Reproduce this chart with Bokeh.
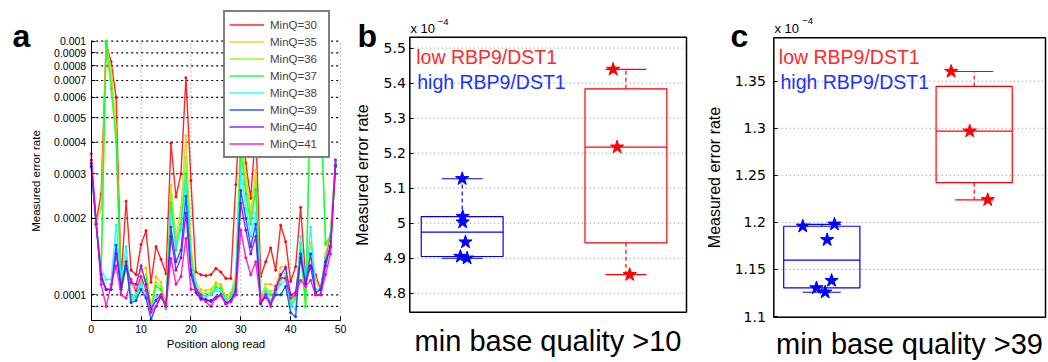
from bokeh.plotting import figure
from bokeh.models import (Range1d, FixedTicker, CustomJSTickFormatter, Legend,
                          LegendItem, Label)
from bokeh.layouts import row
from bokeh.embed import file_html
from bokeh.resources import INLINE
import math

FONT = "Liberation Sans"
H = 362

# ---------------- Panel a data (error rate, units of 1e-4) ----------------
positions = list(range(50))
series_names = ["MinQ=30", "MinQ=35", "MinQ=36", "MinQ=37",
                "MinQ=38", "MinQ=39", "MinQ=40", "MinQ=41"]
series_colors = ["#ff0000", "#ffbf00", "#80ff00", "#00ff40",
                 "#00ffff", "#0040ff", "#8000ff", "#ff00bf"]

err_q30 = [3.4, 1.95, 2.5, 9.8, 8.3, 6.0, 1.15, 2.34, 1.25, 1.2,
           1.58, 1.79, 1.12, 1.55, 1.38, 1.21, 3.96, 2.43, 3.0, 7.17,
           2.82, 1.23, 1.2, 1.19, 1.2, 1.27, 1.23, 1.16, 1.16, 2.72,
           6.0, 3.3, 2.4, 4.5, 1.18, 1.35, 1.53, 1.25, 1.88, 1.62,
           1.13, 1.29, 2.21, 1.17, 1.3, 1.2, 1.05, 1.4, 1.7, 3.4]
err_q35 = [3.3, 1.92, 2.2, 10.0, 7.8, 4.6, 1.1, 1.4, 1.1, 1.02,
           1.25, 1.28, 0.9, 1.18, 1.12, 0.92, 2.7, 1.7, 2.2, 4.24,
           1.55, 1.12, 1.05, 1.04, 1.05, 1.12, 1.1, 0.99, 1.02, 1.2,
           4.5, 3.0, 2.1, 3.1, 0.98, 1.1, 1.1, 1.08, 1.28, 1.3,
           0.95, 1.0, 1.6, 1.05, 1.6, 1.15, 1.03, 1.45, 1.75, 3.35]
err_q36 = [3.3, 1.9, 1.3, 10.0, 7.0, 4.2, 1.05, 1.35, 0.98, 1.0,
           1.12, 1.2, 0.88, 1.12, 1.08, 0.9, 2.5, 1.6, 2.0, 3.5,
           1.45, 1.08, 1.02, 1.01, 1.02, 1.1, 1.08, 0.97, 1.0, 1.15,
           4.0, 2.7, 2.0, 2.8, 0.95, 1.06, 1.03, 1.05, 1.2, 1.22,
           0.93, 0.98, 1.55, 0.9, 7.0, 8.0, 6.5, 1.6, 1.72, 3.3]
err_q37 = [3.3, 1.9, 1.2, 10.0, 6.5, 4.0, 1.02, 1.3, 0.95, 0.98,
           1.1, 1.15, 0.86, 1.08, 1.05, 0.88, 2.3, 1.5, 1.9, 3.0,
           1.4, 1.05, 1.0, 0.99, 1.0, 1.07, 1.06, 0.95, 0.98, 1.12,
           3.8, 2.5, 1.9, 2.6, 0.93, 1.03, 1.0, 1.02, 1.15, 1.18,
           0.9, 0.97, 1.5, 0.9, 6.0, 7.0, 6.0, 1.58, 1.7, 3.3]
err_q38 = [3.2, 1.9, 1.25, 1.15, 1.15, 1.88, 1.15, 1.55, 0.98, 1.0,
           1.1, 1.0, 0.88, 0.98, 1.0, 0.9, 2.1, 1.6, 1.8, 2.8,
           1.35, 1.1, 1.0, 0.99, 1.0, 1.04, 1.03, 0.95, 0.97, 1.1,
           3.1, 2.2, 1.7, 2.1, 0.95, 1.03, 0.95, 1.03, 1.1, 1.15,
           0.9, 0.88, 1.7, 1.1, 1.85, 1.05, 1.05, 1.38, 1.6, 3.3]
err_q39 = [3.2, 1.9, 1.2, 1.05, 1.05, 1.57, 1.07, 1.35, 0.93, 0.95,
           1.05, 0.97, 0.8, 0.9, 0.98, 0.9, 1.85, 1.35, 1.5, 2.45,
           1.25, 1.05, 0.97, 0.96, 0.94, 0.97, 1.0, 0.92, 0.94, 1.05,
           2.58, 2.0, 1.55, 1.9, 0.92, 1.0, 0.92, 1.0, 1.0, 1.08,
           0.85, 0.82, 1.45, 1.1, 1.45, 1.02, 1.05, 1.35, 1.55, 3.2]
err_q40 = [3.3, 1.9, 1.15, 1.05, 1.05, 1.45, 1.05, 1.3, 1.12, 1.1,
           1.3, 1.1, 0.88, 0.95, 1.0, 0.9, 1.7, 1.25, 1.4, 2.1,
           1.2, 1.02, 0.96, 0.95, 0.95, 0.98, 1.0, 0.93, 0.95, 1.03,
           2.3, 1.8, 1.45, 1.7, 0.93, 0.98, 0.92, 1.05, 1.2, 1.28,
           1.0, 1.02, 1.4, 1.1, 1.3, 1.0, 1.0, 1.3, 1.55, 3.25]
err_q41 = [3.6, 1.9, 1.1, 0.9, 1.1, 1.3, 1.0, 0.97, 1.15, 1.04,
           1.18, 1.04, 0.85, 0.9, 1.0, 0.9, 1.39, 1.1, 1.18, 1.67,
           1.05, 1.05, 1.0, 0.94, 0.9, 0.97, 1.0, 0.92, 0.94, 1.0,
           1.8, 1.4, 1.2, 1.35, 0.94, 1.0, 0.9, 1.08, 1.17, 1.16,
           0.97, 1.0, 1.14, 1.08, 1.14, 1.0, 1.0, 1.2, 1.45, 3.4]
all_series = [err_q30, err_q35, err_q36, err_q37, err_q38, err_q39, err_q40, err_q41]

a_xlim = (0, 50)
a_ylim = (7.92e-5, 1e-3)
a_yticks = [0.00009, 0.0001, 0.0002, 0.0003, 0.0004, 0.0005,
            0.0006, 0.0007, 0.0008, 0.0009, 0.001]
a_xticks = [0, 10, 20, 30, 40, 50]

# ---------------- Panel b / c data (units of 1e-4) ----------------
group_names = ["high RBP9/DST1", "low RBP9/DST1"]
group_colors = ["#0000ff", "#ff0000"]

b_high = [5.127, 5.019, 5.003, 4.946, 4.905, 4.900]
b_high_jit = [0.0, 0.003, 0.003, 0.02, -0.011, 0.03]
b_low = [5.439, 5.217, 4.853]
b_low_jit = [-0.078, -0.054, 0.023]
b_xlim = (0.68, 2.37)
b_ylim = (4.746, 5.531)
b_yticks = [4.8, 4.9, 5.0, 5.1, 5.2, 5.3, 5.4, 5.5]

c_high = [1.1959, 1.198, 1.1815, 1.1382, 1.1304, 1.1258]
c_high_jit = [-0.125, 0.083, 0.035, 0.064, -0.035, 0.022]
c_low = [1.3603, 1.2969, 1.2240]
c_low_jit = [-0.151, -0.029, 0.089]
c_xlim = (0.685, 2.468)
c_ylim = (1.0993, 1.3961)
c_yticks = [1.1, 1.15, 1.2, 1.25, 1.3, 1.35]


# ---------------- helpers ----------------
def ext_range(lo, hi, px_lo, px_hi, total, log=False):
    """Extend the data range so that [lo, hi] sits at pixels [px_lo, px_hi]
    of a frame that is `total` pixels long (pixels counted from left/bottom)."""
    if log:
        lo, hi = math.log10(lo), math.log10(hi)
    s = (hi - lo) / (px_hi - px_lo)
    start, end = lo - px_lo * s, hi + (total - px_hi) * s
    if log:
        start, end = 10 ** start, 10 ** end
    return Range1d(start, end)


def new_fig(width, xr, yr, ylog=False):
    p = figure(width=width, height=H, x_range=xr, y_range=yr, title=None,
               y_axis_type="log" if ylog else "linear",
               output_backend="svg", toolbar_location=None,
               min_border=0, min_border_left=0, min_border_right=0,
               min_border_top=0, min_border_bottom=0)
    p.outline_line_color = None
    p.xgrid.grid_line_color = None
    p.ygrid.grid_line_color = None
    return p


def style_axis(ax, tick_size, tick_font=FONT):
    ax.major_label_text_font = tick_font
    ax.major_label_text_font_size = tick_size
    ax.major_label_text_color = "black"
    ax.axis_label_text_font = FONT
    ax.axis_label_text_font_style = "normal"
    ax.axis_label_text_color = "black"
    ax.major_tick_in = 4
    ax.major_tick_out = 0
    ax.minor_tick_line_color = None
    ax.axis_line_color = "black"
    ax.major_tick_line_color = "black"


def add_label(p, x, y, text, size, color="black", style="normal", baseline="alphabetic"):
    p.add_layout(Label(x=x, y=y, x_units="screen", y_units="screen", text=text,
                       text_font=FONT, text_font_size=size, text_color=color,
                       text_font_style=style, text_baseline=baseline))


# ================= Panel a =================
pa = new_fig(350,
             ext_range(a_xlim[0], a_xlim[1], 90.7, 340, 350),
             ext_range(a_ylim[0], a_ylim[1], H - 320, H - 40.7, H, log=True),
             ylog=True)

# dotted grid limited to the plotted area
pa.segment(x0=a_xticks[1:], x1=a_xticks[1:], y0=[a_ylim[0]] * 5, y1=[a_ylim[1]] * 5,
           line_color="#777777", line_dash="1 3", line_width=1)
pa.segment(x0=[a_xlim[0]] * len(a_yticks), x1=[a_xlim[1]] * len(a_yticks),
           y0=a_yticks, y1=a_yticks, line_color="black", line_dash="2 3", line_width=1.2)

items = []
for name, col, vals in zip(series_names, series_colors, all_series):
    yv = [v * 1e-4 for v in vals]
    lr = pa.line(positions, yv, line_color=col, line_width=1.4, line_alpha=0.85)
    pa.scatter(positions, yv, marker="circle", size=2.2, fill_color=col,
               line_color=col, alpha=0.9)
    items.append(LegendItem(label=name, renderers=[lr]))

ya = pa.yaxis[0]
xa = pa.xaxis[0]
ya.ticker = FixedTicker(ticks=a_yticks)
ya.formatter = CustomJSTickFormatter(
    code="if (tick < 0.0000995) { return ''; } return Number(tick.toPrecision(1)).toString();")
ya.fixed_location = a_xlim[0]
ya.bounds = a_ylim
xa.ticker = FixedTicker(ticks=a_xticks)
xa.fixed_location = a_ylim[0]
xa.bounds = a_xlim
for ax in (xa, ya):
    style_axis(ax, "10.5px")
ya.axis_label = "Measured error rate"
xa.axis_label = "Position along read"
ya.axis_label_text_font_size = "11.5px"
xa.axis_label_text_font_size = "11.5px"
ya.major_label_standoff = 5
ya.axis_label_standoff = 9
xa.major_label_standoff = 4
xa.axis_label_standoff = 2

legend = Legend(items=items, location=(223, H - 158))
legend.border_line_color = "black"
legend.border_line_width = 2
legend.background_fill_color = "white"
legend.background_fill_alpha = 1
legend.label_text_font = FONT
legend.label_text_font_size = "11.5px"
legend.glyph_width = 35
legend.glyph_height = 17
legend.label_height = 17
legend.label_width = 54
legend.spacing = 0
legend.padding = 4
legend.margin = 0
legend.label_standoff = 6
pa.add_layout(legend)

add_label(pa, 12, H - 35, "a", "32px", style="bold")


# ================= Box plot helpers =================
def prct(vals, p):
    s = sorted(vals)
    n = len(s)
    pos = [(i + 0.5) / n for i in range(n)]
    if p <= pos[0]:
        return s[0]
    if p >= pos[-1]:
        return s[-1]
    for i in range(n - 1):
        if pos[i] <= p <= pos[i + 1]:
            return s[i] + (p - pos[i]) / (pos[i + 1] - pos[i]) * (s[i + 1] - s[i])
    return s[-1]


def draw_box(p, center, vals, jit, color):
    q1 = prct(vals, 0.25)
    q2 = prct(vals, 0.5)
    q3 = prct(vals, 0.75)
    iqr = q3 - q1
    hi = max(v for v in vals if v <= q3 + 1.5 * iqr)
    lo = min(v for v in vals if v >= q1 - 1.5 * iqr)
    hw = 0.25
    p.quad(left=[center - hw], right=[center + hw], bottom=[q1], top=[q3],
           fill_color=None, line_color=color, line_width=1.2)
    p.segment(x0=[center - hw], x1=[center + hw], y0=[q2], y1=[q2],
              line_color=color, line_width=1.2)
    p.segment(x0=[center, center], x1=[center, center], y0=[q3, q1], y1=[hi, lo],
              line_color=color, line_width=1.2, line_dash="4 3")
    p.segment(x0=[center - hw / 2, center - hw / 2], x1=[center + hw / 2, center + hw / 2],
              y0=[hi, lo], y1=[hi, lo], line_color=color, line_width=1.2)
    xs = [center + j for j in jit]
    p.scatter(xs, vals, marker="star", size=14, fill_color=color, line_color=color)


def make_box_panel(width, xlim, ylim, frame_px, yticks, high, high_jit, low, low_jit,
                   letter, letter_x, exp_xy, sup_xy, xlabel, lab_std, txt_pos,
                   tick_standoff, ylab_standoff):
    left, right, top, bottom = frame_px
    p = new_fig(width,
                ext_range(xlim[0], xlim[1], left, right, width),
                ext_range(ylim[0], ylim[1], H - bottom, H - top, H))
    # horizontal dotted grid inside the box
    p.segment(x0=[xlim[0]] * len(yticks), x1=[xlim[1]] * len(yticks),
              y0=yticks, y1=yticks, line_color="#888888", line_dash="1 3", line_width=1)

    ya = p.yaxis[0]
    xa = p.xaxis[0]
    ya.ticker = FixedTicker(ticks=yticks)
    ya.formatter = CustomJSTickFormatter(code="return Number(tick.toFixed(2)).toString();")
    ya.fixed_location = xlim[0]
    ya.bounds = ylim
    style_axis(ya, "14px", tick_font="DejaVu Sans")
    ya.axis_line_color = None
    ya.axis_label = "Measured error rate"
    ya.axis_label_text_font_size = "16px"
    ya.major_label_standoff = tick_standoff
    ya.axis_label_standoff = ylab_standoff

    xa.ticker = FixedTicker(ticks=[])
    xa.fixed_location = ylim[0]
    xa.bounds = xlim
    style_axis(xa, "1px")
    xa.axis_line_color = None
    xa.axis_label = xlabel
    xa.axis_label_text_font_size = "29px"
    xa.axis_label_standoff = lab_std

    draw_box(p, 1, high, high_jit, group_colors[0])
    draw_box(p, 2, low, low_jit, group_colors[1])

    # axes box
    p.quad(left=[xlim[0]], right=[xlim[1]], bottom=[ylim[0]], top=[ylim[1]],
           fill_color=None, line_color="black", line_width=1.5)

    (lx, ly), (hx, hy) = txt_pos
    add_label(p, lx, H - ly, group_names[1], "19.5px", color="#ff2a2a", baseline="middle")
    add_label(p, hx, H - hy, group_names[0], "19.5px", color="#1a33ff", baseline="middle")
    add_label(p, letter_x, H - 35, letter, "32px", style="bold")
    add_label(p, exp_xy[0], H - exp_xy[1], "x 10", "13px")
    add_label(p, sup_xy[0], H - sup_xy[1], "\u22124", "9.5px")
    return p


pb = make_box_panel(350, b_xlim, b_ylim, (59.3, 336, 36.7, 311.7), b_yticks,
                    b_high, b_high_jit, b_low, b_low_jit,
                    "b", 7, (60, 28.3), (87.3, 21.7),
                    "min base quality >10", 12,
                    ((65.7, 56.7), (66.7, 81.7)), 4, 9)
pc = make_box_panel(348, c_xlim, c_ylim, (73.3, 345, 37.3, 316.7), c_yticks,
                    c_high, c_high_jit, c_low, c_low_jit,
                    "c", 30, (74, 28.3), (101.7, 20.7),
                    "min base quality >39", 10,
                    ((78.3, 56.7), (80, 81.7)), 8, 8)

layout = row(pa, pb, pc)
open("out.html", "w").write(file_html(layout, INLINE))
